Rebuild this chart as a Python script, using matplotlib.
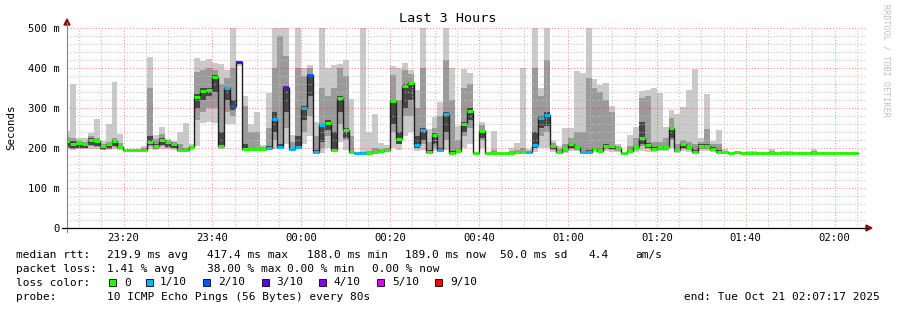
import matplotlib
matplotlib.use('Agg')
import matplotlib.pyplot as plt
import matplotlib.dates as mdates
from matplotlib.lines import Line2D
from matplotlib.patches import Polygon, Rectangle
from matplotlib.ticker import MultipleLocator
import pandas as pd

W, H = 897, 310
MONO = 'DejaVu Sans Mono'

# 80 s steps, 3 hour window ending Tue Oct 21 02:07:17 2025
t_start = pd.Timestamp('2025-10-20 23:07:17')
t_end = pd.Timestamp('2025-10-21 02:07:17')
step_start = pd.date_range('2025-10-20 23:06:38', periods=134, freq='80s')

# median rtt per step (ms)
median = [
    218, 209, 212, 209, 220, 218, 204, 209, 218, 203,
    196, 196, 196, 196, 214, 206, 220, 214, 209, 196,
    196, 202, 328, 342, 345, 378, 205, 349, 306, 416,
    197, 197, 197, 197, 201, 272, 202, 351, 197, 202,
    301, 383, 191, 257, 262, 195, 326, 244, 190, 188,
    188, 188, 191, 192, 194, 317, 222, 356, 362, 208,
    244, 191, 233, 196, 286, 188, 192, 261, 293, 188,
    242, 188, 188, 188, 188, 188, 189, 189, 189, 208,
    276, 283, 206, 189, 197, 210, 202, 191, 191, 197,
    192, 206, 205, 199, 188, 193, 202, 224, 208, 198,
    202, 202, 249, 194, 209, 202, 191, 206, 206, 198,
    191, 189, 187, 189, 188, 188, 187, 188, 188, 188,
    187, 188, 188, 187, 188, 188, 188, 188, 187, 188,
    188, 188, 188, 188]

# lost pings out of 10 per step
loss = [
    0, 0, 0, 0, 0, 0, 0, 0, 0, 0,
    0, 0, 0, 0, 0, 0, 0, 0, 0, 0,
    0, 0, 0, 0, 0, 0, 0, 1, 2, 3,
    0, 0, 0, 0, 1, 1, 1, 3, 1, 1,
    1, 2, 1, 1, 0, 0, 0, 0, 0, 1,
    1, 0, 0, 0, 0, 0, 0, 0, 0, 1,
    1, 0, 0, 1, 1, 0, 0, 0, 0, 0,
    0, 0, 0, 0, 0, 0, 0, 0, 1, 1,
    1, 1, 0, 0, 0, 0, 0, 1, 1, 0,
    0, 0, 0, 0, 0, 0, 0, 0, 0, 0,
    0, 0, 0, 0, 0, 0, 0, 0, 0, 0,
    0, 0, 0, 0, 0, 0, 0, 0, 0, 0,
    0, 0, 0, 0, 0, 0, 0, 0, 0, 0,
    0, 0, 0, 0]

# smoke: outer range of the pings
ping_min = [
    197, 196, 197, 197, 198, 198, 194, 195, 198, 195,
    195, 195, 195, 194, 197, 196, 198, 197, 196, 194,
    195, 196, 205, 263, 265, 262, 198, 260, 260, 405,
    196, 196, 196, 196, 196, 198, 197, 210, 195, 197,
    210, 230, 190, 188, 200, 190, 215, 195, 188, 186,
    186, 186, 188, 188, 190, 200, 195, 230, 240, 193,
    195, 189, 192, 189, 195, 186, 188, 200, 210, 187,
    200, 187, 187, 187, 187, 187, 187, 187, 187, 190,
    200, 200, 190, 187, 188, 192, 192, 188, 188, 190,
    189, 192, 190, 190, 187, 188, 190, 192, 190, 190,
    192, 192, 200, 188, 192, 190, 188, 192, 192, 190,
    188, 187, 186, 187, 186, 186, 186, 186, 186, 186,
    186, 186, 186, 186, 186, 186, 186, 186, 186, 186,
    186, 186, 186, 186]
ping_max = [
    242, 359, 226, 224, 237, 272, 217, 260, 364, 235,
    196, 196, 196, 206, 427, 233, 252, 222, 217, 240,
    262, 209, 425, 417, 422, 412, 409, 395, 500, 418,
    331, 260, 289, 208, 337, 500, 500, 500, 233, 500,
    401, 408, 266, 500, 401, 408, 409, 420, 322, 190,
    500, 240, 285, 212, 208, 405, 399, 412, 395, 345,
    500, 247, 278, 314, 500, 399, 255, 397, 388, 188,
    264, 188, 242, 188, 188, 199, 212, 399, 197, 500,
    351, 500, 218, 206, 250, 250, 393, 388, 500, 373,
    358, 362, 305, 209, 188, 233, 253, 342, 344, 350,
    337, 253, 295, 285, 302, 345, 397, 224, 335, 218,
    245, 197, 188, 189, 190, 192, 192, 189, 189, 197,
    189, 192, 192, 189, 189, 190, 197, 189, 189, 190,
    189, 189, 189, 189]
# smoke: middle pings
mid_lo = [
    200, 198, 199, 199, 205, 203, 196, 198, 202, 197,
    195, 195, 195, 195, 205, 198, 204, 200, 199, 195,
    196, 197, 270, 290, 300, 300, 215, 290, 280, 410,
    197, 197, 197, 197, 197, 220, 210, 250, 196, 210,
    240, 280, 191, 200, 230, 193, 260, 220, 189, 188,
    187, 187, 189, 190, 191, 240, 210, 280, 280, 200,
    210, 190, 200, 192, 220, 187, 189, 230, 250, 187,
    220, 187, 187, 187, 187, 187, 188, 188, 188, 200,
    230, 240, 195, 188, 190, 198, 195, 189, 189, 192,
    190, 197, 195, 193, 187, 190, 194, 205, 200, 193,
    195, 195, 220, 190, 198, 195, 189, 198, 198, 193,
    189, 188, 187, 187, 187, 187, 187, 187, 187, 187,
    187, 187, 187, 187, 187, 187, 187, 187, 187, 187,
    187, 187, 187, 187]
mid_hi = [
    228, 225, 220, 216, 230, 226, 210, 214, 226, 212,
    196, 196, 196, 199, 351, 222, 235, 219, 214, 210,
    200, 205, 390, 395, 400, 395, 360, 375, 400, 418,
    305, 240, 240, 203, 250, 400, 480, 430, 215, 400,
    380, 400, 230, 350, 330, 350, 400, 380, 230, 190,
    190, 192, 200, 198, 200, 382, 320, 395, 385, 300,
    400, 215, 250, 280, 420, 320, 220, 350, 360, 188,
    258, 188, 195, 188, 188, 192, 195, 200, 193, 400,
    330, 420, 212, 198, 210, 225, 240, 240, 374, 350,
    340, 320, 290, 205, 188, 205, 225, 326, 330, 215,
    215, 225, 275, 210, 220, 215, 210, 215, 247, 210,
    210, 192, 188, 189, 189, 190, 190, 189, 189, 192,
    189, 190, 190, 189, 189, 189, 192, 189, 189, 189,
    189, 189, 189, 189]
# smoke: pings closest to the median
dark_lo = [
    203, 200, 201, 201, 208, 206, 198, 200, 205, 199,
    195, 195, 195, 195, 208, 200, 207, 203, 201, 195,
    196, 199, 300, 320, 330, 340, 205, 320, 295, 412,
    197, 197, 197, 197, 198, 240, 200, 290, 196, 200,
    270, 330, 191, 215, 245, 194, 290, 225, 189, 188,
    187, 187, 190, 190, 192, 260, 210, 300, 320, 200,
    220, 190, 210, 193, 240, 187, 190, 240, 270, 187,
    225, 187, 187, 187, 187, 187, 188, 188, 188, 200,
    250, 255, 198, 188, 192, 200, 197, 189, 189, 193,
    190, 200, 198, 195, 187, 191, 197, 210, 200, 194,
    197, 197, 225, 191, 200, 197, 189, 200, 200, 194,
    189, 188, 187, 187, 187, 187, 187, 187, 187, 187,
    187, 187, 187, 187, 187, 187, 187, 187, 187, 187,
    187, 187, 187, 187]
dark_hi = [
    220, 218, 214, 212, 224, 221, 206, 211, 221, 206,
    196, 196, 196, 197, 230, 210, 224, 216, 211, 198,
    198, 203, 335, 350, 350, 382, 240, 352, 320, 417,
    210, 200, 200, 199, 206, 290, 210, 355, 200, 230,
    305, 385, 195, 260, 270, 240, 330, 250, 193, 189,
    189, 189, 193, 194, 196, 320, 240, 360, 365, 230,
    250, 194, 238, 200, 290, 192, 195, 265, 300, 188,
    246, 188, 189, 188, 188, 189, 190, 190, 191, 240,
    280, 290, 208, 191, 200, 213, 206, 193, 195, 200,
    196, 210, 208, 202, 188, 196, 206, 265, 212, 202,
    206, 206, 252, 197, 212, 206, 195, 210, 210, 202,
    195, 190, 188, 189, 188, 189, 188, 188, 188, 189,
    188, 189, 189, 188, 188, 188, 189, 188, 188, 188,
    188, 188, 188, 188]

loss_colors = {0: '#26ff00', 1: '#00b8ff', 2: '#0059ff', 3: '#5e00ff',
               4: '#7e00ff', 5: '#dd00ff', 9: '#ff0000'}
legend_items = [(0, '0'), (1, '1/10'), (2, '2/10'), (3, '3/10'),
                (4, '4/10'), (5, '5/10'), (9, '9/10')]


def fx(px):
    return px / W


def fy(py):
    return 1 - py / H


fig = plt.figure(figsize=(W / 100, H / 100), dpi=100)
ax = fig.add_axes([fx(67), fy(228), 800 / W, 200 / H])

x = mdates.date2num(step_start.to_pydatetime())
w = 80 / 86400

# smoke bands
bands = [(ping_min, ping_max, '#cacaca'), (mid_lo, mid_hi, '#9a9a9a'),
         (dark_lo, dark_hi, '#454545')]
for lo, hi, col in bands:
    ax.bar(x, [h - l for l, h in zip(lo, hi)], bottom=lo, width=w, align='edge',
           color=col, linewidth=0, zorder=1)

# median staircase + loss coloured segments
xe = list(x) + [x[-1] + w]
ax.step(xe, median + [median[-1]], where='post', color='#202020', lw=1.0, zorder=3)
ax.hlines(median, x, x + w, colors=[loss_colors[l] for l in loss], lw=2.2, zorder=4)

ax.set_xlim(mdates.date2num(t_start), mdates.date2num(t_end))
ax.set_ylim(0, 500)

ax.set_yticks([0, 100, 200, 300, 400, 500])
ax.set_yticklabels(['0', '100 m', '200 m', '300 m', '400 m', '500 m'])
ax.yaxis.set_minor_locator(MultipleLocator(20))
ax.xaxis.set_major_locator(mdates.MinuteLocator(byminute=[0, 20, 40]))
ax.xaxis.set_minor_locator(mdates.MinuteLocator(byminute=range(0, 60, 5)))
ax.xaxis.set_major_formatter(mdates.DateFormatter('%H:%M'))
ax.tick_params(which='both', length=0)
ax.tick_params(axis='y', pad=5, labelsize=7.6)
ax.tick_params(axis='x', pad=3.5, labelsize=7.6)
for lab in ax.get_xticklabels() + ax.get_yticklabels():
    lab.set_family(MONO)

ax.set_axisbelow(False)
ax.grid(which='major', color='#ff0000', alpha=0.45, linestyle=(0, (1, 2)), lw=0.75)
ax.grid(which='minor', color='#bdbdbd', linestyle=(0, (1, 2)), lw=0.75)
for s in ax.spines.values():
    s.set_visible(False)

# axes with arrows
fig.add_artist(Line2D([fx(67), fx(67)], [fy(232), fy(22)], color='#808080', lw=0.8))
fig.add_artist(Line2D([fx(62), fx(867)], [fy(228), fy(228)], color='black', lw=0.9))
fig.add_artist(Polygon([(fx(64), fy(25)), (fx(70), fy(25)), (fx(67), fy(19))],
                       closed=True, color='#8b1010'))
fig.add_artist(Polygon([(fx(866), fy(225)), (fx(866), fy(231)), (fx(872), fy(228))],
                       closed=True, color='#8b1010'))

fig.text(fx(448), fy(19), 'Last 3 Hours', ha='center', va='center', fontsize=9.7, family=MONO)
fig.text(fx(11), fy(127), 'Seconds', rotation=90, ha='center', va='center', fontsize=7.8, family=MONO)
fig.text(fx(886), fy(4), 'RRDTOOL / TOBI OETIKER', rotation=270, ha='center', va='top',
         fontsize=6.1, color='#c0c0c0', family=MONO)

fs = 8
row1 = [(16, 'median rtt:'), (107, '219.9 ms avg'), (207, '417.4 ms max'),
        (307, '188.0 ms min'), (405, '189.0 ms now'), (500, '50.0 ms sd'),
        (588, '4.4'), (635, 'am/s')]
row2 = [(16, 'packet loss:'), (107, '1.41 % avg'), (207, '38.00 % max'),
        (287, '0.00 % min'), (372, '0.00 % now')]
for px, s in row1:
    fig.text(fx(px), fy(255), s, ha='left', va='center', fontsize=fs, family=MONO)
for px, s in row2:
    fig.text(fx(px), fy(268.5), s, ha='left', va='center', fontsize=fs, family=MONO)

fig.text(fx(16), fy(282.5), 'loss color:', ha='left', va='center', fontsize=fs, family=MONO)
sq_x = [109, 146, 203, 262, 319, 377, 435]
txt_x = [124, 160, 218, 276, 333, 392, 450]
for (lv, lab), sx, tx in zip(legend_items, sq_x, txt_x):
    fig.add_artist(Rectangle((fx(sx), fy(286)), 7 / W, 7 / H, facecolor=loss_colors[lv],
                             edgecolor='black', lw=0.6))
    fig.text(fx(tx), fy(282.5), lab, ha='left', va='center', fontsize=fs, family=MONO)

fig.text(fx(16), fy(296.5), 'probe:', ha='left', va='center', fontsize=fs, family=MONO)
fig.text(fx(107), fy(296.5), '10 ICMP Echo Pings (56 Bytes) every 80s', ha='left', va='center',
         fontsize=fs, family=MONO)
fig.text(fx(880), fy(296.5), 'end: Tue Oct 21 02:07:17 2025', ha='right', va='center',
         fontsize=fs, family=MONO)

fig.savefig('out.png', dpi=100)
